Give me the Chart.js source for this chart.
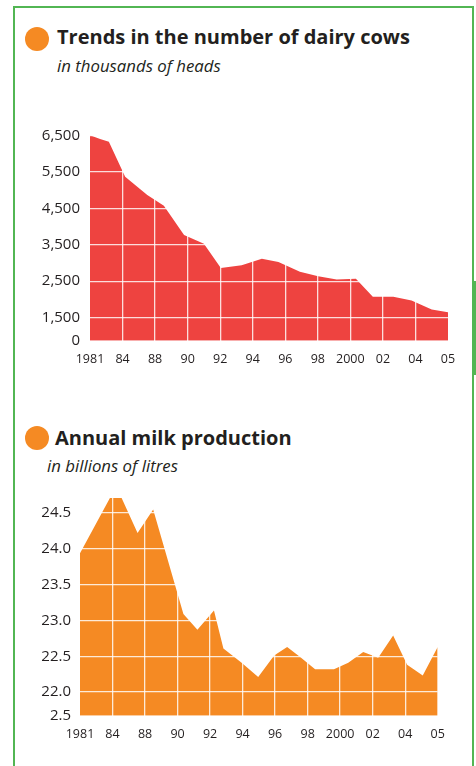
<!DOCTYPE html>
<html>
<head>
<meta charset="utf-8">
<script src="https://cdn.jsdelivr.net/npm/chart.js@4.4.1/dist/chart.umd.min.js"></script>
<style>
  html, body { margin: 0; padding: 0; background: #ffffff; }
  body { width: 476px; height: 766px; position: relative; overflow: hidden; font-family: 'Open Sans', sans-serif; color: #231F20; }
  .frame { position: absolute; left: 13px; top: 6px; width: 457px; height: 800px; border: 2px solid #52B653; border-bottom: none; }
  .tab { position: absolute; left: 474px; top: 281px; width: 2px; height: 94px; background: #52B653; }
  .dot { position: absolute; width: 24px; height: 24px; border-radius: 50%; background: #F58A23; }
  .title { position: absolute; font-weight: 700; font-size: 20px; line-height: 20px; white-space: nowrap; }
  .sub { position: absolute; font-style: italic; font-size: 16.8px; line-height: 16.8px; white-space: nowrap; }
  canvas { position: absolute; left: 0; }
</style>
</head>
<body>
<div class="frame"></div>
<div class="tab"></div>

<div class="dot" style="left:25px; top:27px;"></div>
<div class="title" style="left:57px; top:27px;">Trends in the number of dairy cows</div>
<div class="sub" style="left:57px; top:58px;">in thousands of heads</div>

<div class="dot" style="left:25px; top:426px;"></div>
<div class="title" style="left:55px; top:428px;">Annual milk production</div>
<div class="sub" style="left:47px; top:458px;">in billions of litres</div>

<canvas id="cows" width="476" height="280" style="top:100px;"></canvas>
<canvas id="milk" width="476" height="286" style="top:480px;"></canvas>

<script>
// ---- shared time axis labels ----
const yearLabels = ['1981', '84', '88', '90', '92', '94', '96', '98', '2000', '02', '04', '05'];

// ---- dairy cows (thousands of heads) ----
// position along the time axis, in label steps (0 = 1981, 11 = 2005)
const cowPos    = [0, 0.31, 0.58, 1.08, 1.76, 1.95, 2.27, 2.89, 3.50, 4.02, 4.66, 5.28, 5.79, 6.45, 7.01, 7.58, 8.17, 8.69, 9.32, 9.88, 10.50, 11];
const cowHeads  = [6500, 6400, 6325, 5365, 4865, 4755, 4570, 3770, 3530, 2865, 2940, 3115, 3030, 2760, 2635, 2545, 2565, 2075, 2075, 1970, 1725, 1650];
const cowTicks  = [1500, 2500, 3500, 4500, 5500, 6500];
const cowFloor  = 870;    // axis floor, labelled "0"
const cowTop    = 6500;

// ---- milk production (billions of litres) ----
const milkPos    = [0, 0.92, 1.28, 1.77, 2.25, 2.92, 3.18, 3.61, 4.12, 4.41, 4.97, 5.48, 5.97, 6.37, 6.77, 7.23, 7.81, 8.25, 8.71, 9.17, 9.63, 10.06, 10.54, 11];
const milkLitres = [23.94, 24.71, 24.71, 24.22, 24.55, 23.50, 23.09, 22.87, 23.14, 22.61, 22.41, 22.21, 22.51, 22.63, 22.49, 22.32, 22.32, 22.41, 22.56, 22.48, 22.79, 22.38, 22.23, 22.63];
const milkTicks  = [22.0, 22.5, 23.0, 23.5, 24.0, 24.5];
const milkFloor  = 21.67; // axis floor, labelled "2.5"
const milkTop    = 24.71;

const textColor = '#231F20';
const gridColor = 'rgba(255,255,255,0.82)';

function makeChart(id, opts) {
  const points = opts.pos.map((p, i) => ({ x: p, y: opts.values[i] }));
  return new Chart(document.getElementById(id), {
    type: 'line',
    data: {
      datasets: [{
        data: points,
        fill: 'start',
        backgroundColor: opts.color,
        borderColor: 'rgba(0,0,0,0)',
        borderWidth: 0,
        pointRadius: 0,
        tension: 0
      }]
    },
    options: {
      responsive: false,
      animation: false,
      devicePixelRatio: 1,
      layout: { padding: { top: opts.padTop, right: opts.padRight, left: 0, bottom: 0 } },
      plugins: { legend: { display: false }, tooltip: { enabled: false } },
      scales: {
        x: {
          type: 'linear',
          min: 0,
          max: yearLabels.length - 1,
          afterBuildTicks: (s) => { s.ticks = yearLabels.map((_, i) => ({ value: i })); },
          afterFit: (s) => { s.height = opts.xHeight; },
          border: { display: false },
          grid: {
            z: 1,
            drawTicks: false,
            lineWidth: 1.3,
            color: (c) => (c.index === 0 || c.index === yearLabels.length - 1) ? 'rgba(0,0,0,0)' : gridColor
          },
          ticks: {
            padding: 11,
            autoSkip: false,
            maxRotation: 0,
            color: textColor,
            font: { family: 'Open Sans', size: 12.5 },
            callback: (v) => yearLabels[v]
          }
        },
        y: {
          type: 'linear',
          min: opts.floor,
          max: opts.top,
          afterBuildTicks: (s) => { s.ticks = [opts.floor].concat(opts.ticks).map(v => ({ value: v })); },
          afterFit: (s) => { s.width = opts.yWidth; },
          border: { display: false },
          grid: {
            z: 1,
            drawTicks: false,
            lineWidth: 1.3,
            color: (c) => c.index === 0 ? 'rgba(0,0,0,0)' : gridColor
          },
          ticks: {
            padding: opts.yPad,
            color: textColor,
            font: { family: 'Open Sans', size: 15 },
            callback: opts.fmt
          }
        }
      }
    }
  });
}

makeChart('cows', {
  pos: cowPos, values: cowHeads, ticks: cowTicks, floor: cowFloor, top: cowTop,
  color: '#EE4340',
  padTop: 35.3, padRight: 28, xHeight: 39.3, yWidth: 90, yPad: 10,
  fmt: (v) => v === cowFloor ? '0' : v.toLocaleString('en-US')
});

makeChart('milk', {
  pos: milkPos, values: milkLitres, ticks: milkTicks, floor: milkFloor, top: milkTop,
  color: '#F58A23',
  padTop: 17.3, padRight: 38.3, xHeight: 50.3, yWidth: 80, yPad: 9,
  fmt: (v) => v === milkFloor ? '2.5' : v.toFixed(1)
});
</script>
</body>
</html>
